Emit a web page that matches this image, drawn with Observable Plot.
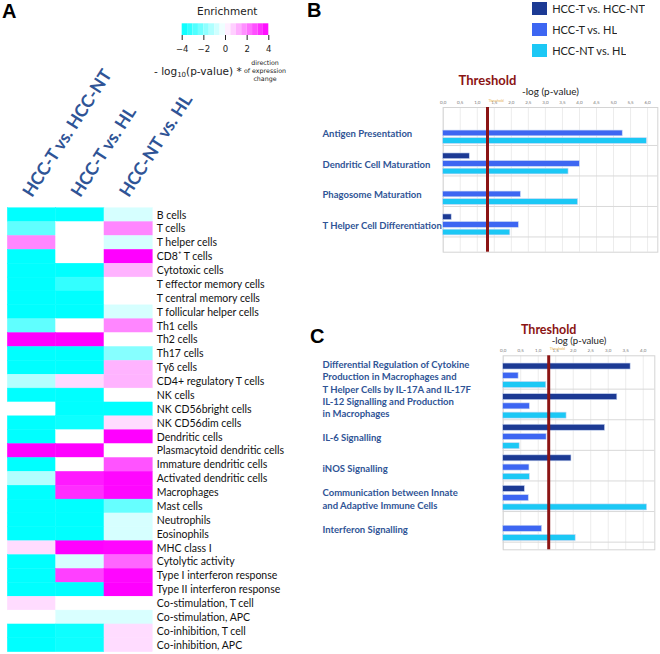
<!DOCTYPE html>
<html><head><meta charset="utf-8">
<script src="https://cdn.jsdelivr.net/npm/d3@7"></script>
<script src="https://cdn.jsdelivr.net/npm/@observablehq/plot@0.6"></script>
<style>
html,body{margin:0;padding:0;background:#fff;}
#root{position:relative;width:660px;height:654px;overflow:hidden;background:#fff;}
.abs{position:absolute;}
.panel{position:absolute;font-family:"Liberation Sans",Arial,sans-serif;font-weight:bold;font-size:20px;line-height:20px;color:#000;}
.txt{position:absolute;font-family:"DejaVu Sans",sans-serif;color:#222;white-space:nowrap;}
.lgb-swatch{margin-bottom:7px;}
</style></head><body><div id="root"></div>
<script>
// ---------- data ----------
const comparisons = ["HCC-T vs. HCC-NT", "HCC-T vs. HL", "HCC-NT vs. HL"];
const cellTypes = ["B cells","T cells","T helper cells","CD8\u207A T cells","Cytotoxic cells","T effector memory cells","T central memory cells","T follicular helper cells","Th1 cells","Th2 cells","Th17 cells","T\u03B3\u03B4 cells","CD4+ regulatory T cells","NK cells","NK CD56bright cells","NK CD56dim cells","Dendritic cells","Plasmacytoid dendritic cells","Immature dendritic cells","Activated dendritic cells","Macrophages","Mast cells","Neutrophils","Eosinophils","MHC class I","Cytolytic activity","Type I interferon response","Type II interferon response","Co-stimulation, T cell","Co-stimulation, APC","Co-inhibition, T cell","Co-inhibition, APC"];
const enrichT_NT  = [-4,-2.5,1.9,-4,-4,-4,-4,-4,-2.5,4,-4,-4,-1.2,-4,0,-4,-4,4,-4,-1.2,-4,-4,-4,-4,0.55,-4,-4,-4,0.55,0,-4,-4];
const enrichT_HL  = [-4,0,0,0,-4,-3.2,-4,-4,0,4,-4,-4,0.6,-4,-4,-3.8,0,4,0,3.6,3.3,-4,-4,-4,4,-0.65,3.0,-4,0,-0.6,-3.8,-3.8];
const enrichNT_HL = [-0.65,1.9,-0.65,4,1.2,0,0,-0.65,1.9,0,-1.9,1.2,1.2,0,-4,0.55,4,0,2.7,3.9,3.9,-2.4,-0.65,-0.65,3.9,2.4,3.9,4,0,-0.6,0.55,0.55];
const legendTicks = [-4, -2, 0, 2, 4];

const pathwaysB = ["Antigen Presentation","Dendritic Cell Maturation","Phagosome Maturation","T Helper Cell Differentiation"];
const bT_NT  = [null, 0.78, null, 0.25];
const bT_HL  = [5.27, 4.01, 2.28, 2.22];
const bNT_HL = [5.98, 3.68, 3.96, 1.97];
const ticksB = [0,0.5,1,1.5,2,2.5,3,3.5,4,4.5,5,5.5,6];

const pathwaysC = ["Differential Regulation of Cytokine\nProduction in Macrophages and\nT Helper Cells by IL-17A and IL-17F","IL-12 Signalling and Production\nin Macrophages","IL-6 Signalling","iNOS Signalling","Communication between Innate\nand Adaptive Immune Cells","Interferon Signalling"];
const cT_NT  = [3.64, 3.26, 2.91, 1.95, 0.62, null];
const cT_HL  = [0.44, 0.76, 1.24, 0.75, 0.73, 1.11];
const cNT_HL = [1.23, 1.81, 0.47, 0.76, 4.11, 2.07];
const ticksC = [0,0.5,1,1.5,2,2.5,3,3.5,4];
const threshold = 1.3;

// ---------- styles ----------
const seriesColors = ["#1c3a94", "#3d66f2", "#1cc8f5"];
const labelBlue = "#2f5496";
const darkRed = "#8b1414";
const heatColor = {type: "linear", domain: [-4, 0, 4], range: ["#00ffff", "#ffffff", "#ff00ff"], interpolate: "rgb", clamp: true};

const root = document.getElementById("root");
function place(el, left, top) {
  const d = document.createElement("div");
  d.className = "abs"; d.style.left = left + "px"; d.style.top = top + "px";
  d.appendChild(el); root.appendChild(d); return d;
}
function html(cls, left, top, inner, extra) {
  const d = document.createElement("div");
  d.className = cls; d.style.left = left + "px"; d.style.top = top + "px";
  d.innerHTML = inner; if (extra) Object.assign(d.style, extra);
  root.appendChild(d); return d;
}

// ---------- Panel A: heatmap ----------
const heat = cellTypes.flatMap((c, i) =>
  [enrichT_NT[i], enrichT_HL[i], enrichNT_HL[i]].map((v, j) => ({cell: c, comp: comparisons[j], v})));

const heatPlot = Plot.plot({
  width: 330, height: 654,
  marginLeft: 7.3, marginRight: 177.7, marginTop: 207.7, marginBottom: 2.3,
  style: {background: "transparent", overflow: "visible", fontFamily: "Lato", fontSize: "10.5px", color: "#111"},
  x: {domain: comparisons, padding: 0, round: false, axis: null},
  y: {domain: cellTypes, padding: 0, round: false, axis: "right", tickSize: 0, tickPadding: 4, label: null},
  color: heatColor,
  marks: [
    Plot.cell(heat, {x: "comp", y: "cell", fill: "v", inset: 0, stroke: "v", strokeWidth: 0.4}),
    Plot.text(comparisons, {x: d => d, text: d => d, frameAnchor: "top", dy: -10, rotate: -57,
      textAnchor: "start", lineAnchor: "bottom", fontSize: 17.5, fontWeight: "bold", fill: labelBlue, fontFamily: "Lato"})
  ]
});
place(heatPlot, 0, 0);

// colour bar legend
const steps = d3.range(-4, 4, 0.5);
const legendPlot = Plot.plot({
  width: 110, height: 60, marginLeft: 11.7, marginRight: 11.7, marginTop: 23.3, marginBottom: 25,
  style: {background: "transparent", overflow: "visible", fontFamily: "DejaVu Sans", fontSize: "8.5px", color: "#222"},
  x: {domain: [-4, 4], ticks: legendTicks, tickSize: 5, tickPadding: 5, label: null,
      tickFormat: d => d < 0 ? "\u2212" + (-d) : String(d)},
  color: heatColor,
  marks: [Plot.rect(steps, {x1: d => d, x2: d => d + 0.5, fill: d => d + 0.25})]
});
place(legendPlot, 170, 0);
html("txt", 197, 5, "Enrichment", {fontSize: "10.5px"});
html("txt", 154, 65, "- log<sub style='font-size:7px;vertical-align:-2px'>10</sub>(p-value) *", {fontSize: "10.5px"});
html("txt", 244, 59, "direction<br>of expression<br>change", {fontSize: "6.3px", lineHeight: "8px", textAlign: "center", width: "42px"});

// ---------- Panels B & C: bar charts ----------
function barPanel({pathways, s0, s1, s2, ticks, xMax, yDomain, off, pitch, h, labelY, labelDx, lineHeight,
                   width, height, mL, mR, mT, mB, thrDy, thrFont, axDy, axFont}) {
  const rows = pathways.flatMap((p, g) => [s0[g], s1[g], s2[g]].map((v, i) => ({g, i, v, series: comparisons[i]})))
    .filter(d => d.v != null);
  return Plot.plot({
    width, height, marginLeft: mL, marginRight: mR, marginTop: mT, marginBottom: mB,
    style: {background: "transparent", overflow: "visible", fontFamily: "Lato", fontSize: "4.5px", color: "#777"},
    x: {domain: [0, xMax], axis: "top", ticks, tickSize: 0, tickPadding: 4, label: null,
        tickFormat: d => d.toFixed(1).replace(".", ",")},
    y: {domain: yDomain, axis: null},
    color: {domain: comparisons, range: seriesColors},
    marks: [
      Plot.ruleX(ticks, {stroke: "#ececec", strokeWidth: 1}),
      Plot.ruleY(pathways.map((p, g) => g + 1), {stroke: "#d9d9d9", strokeWidth: 1}),
      Plot.frame({stroke: "#d4d4d4"}),
      Plot.rect(rows, {x1: 0, x2: "v", y1: d => d.g + off + d.i * pitch, y2: d => d.g + off + d.i * pitch + h,
        fill: "series", stroke: "#c9d6f2", strokeWidth: 0.6}),
      Plot.ruleX([threshold], {stroke: darkRed, strokeWidth: 3}),
      Plot.text([threshold], {x: d => d, text: () => "Threshold", frameAnchor: "top", lineAnchor: "middle", dy: thrDy,
        fontSize: thrFont, fontWeight: "bold", fill: darkRed}),
      Plot.text([threshold], {x: d => d, text: () => "Threshold", frameAnchor: "top", lineAnchor: "middle", dy: -6.5, dx: 1,
        textAnchor: "start", fontSize: 3.5, fill: "#e7b04a"}),
      Plot.text(["-log (p-value)"], {text: d => d, frameAnchor: "top", lineAnchor: "middle", dy: axDy, fontSize: axFont, fill: "#222"}),
      Plot.text(pathways, {y: (d, g) => g + labelY, text: d => d, frameAnchor: "left", dx: labelDx,
        textAnchor: "start", lineAnchor: "middle", lineHeight, fontSize: 9.5, fontWeight: "bold", fill: labelBlue})
    ]
  });
}

const plotB = barPanel({
  pathways: pathwaysB, s0: bT_NT, s1: bT_HL, s2: bNT_HL, ticks: ticksB, xMax: 6.3,
  yDomain: [4.5, -0.245], off: 0.262, pitch: 0.25, h: 0.187, labelY: 0.6, labelDx: -120.7, lineHeight: 1.3,
  width: 360, height: 200, mL: 142.7, mR: 2.7, mT: 47, mB: 8.3, thrDy: -26.3, thrFont: 13, axDy: -15.3, axFont: 10
});
place(plotB, 300, 60);

const plotC = barPanel({
  pathways: pathwaysC, s0: cT_NT, s1: cT_HL, s2: cNT_HL, ticks: ticksC, xMax: 4.33,
  yDomain: [6.25, -0.09], off: 0.163, pitch: 0.302, h: 0.196, labelY: 0.58, labelDx: -180.7, lineHeight: 1.3,
  width: 360, height: 260, mL: 202.7, mR: 5.7, mT: 55.3, mB: 10.7, thrDy: -26, thrFont: 12.5, axDy: -15, axFont: 9.6
});
place(plotC, 300, 300);

// series legend for B
const legB = Plot.legend({
  color: {type: "ordinal", domain: comparisons, range: seriesColors},
  columns: 1, swatchWidth: 15, swatchHeight: 13, className: "lgb",
  style: {fontFamily: "Lato", fontSize: "11px", color: "#222"}
});
place(legB, 531.7, 1.7);

// panel letters
html("panel", 2, 0.5, "A");
html("panel", 307, 0, "B");
html("panel", 310, 325.5, "C");
</script></body></html>
